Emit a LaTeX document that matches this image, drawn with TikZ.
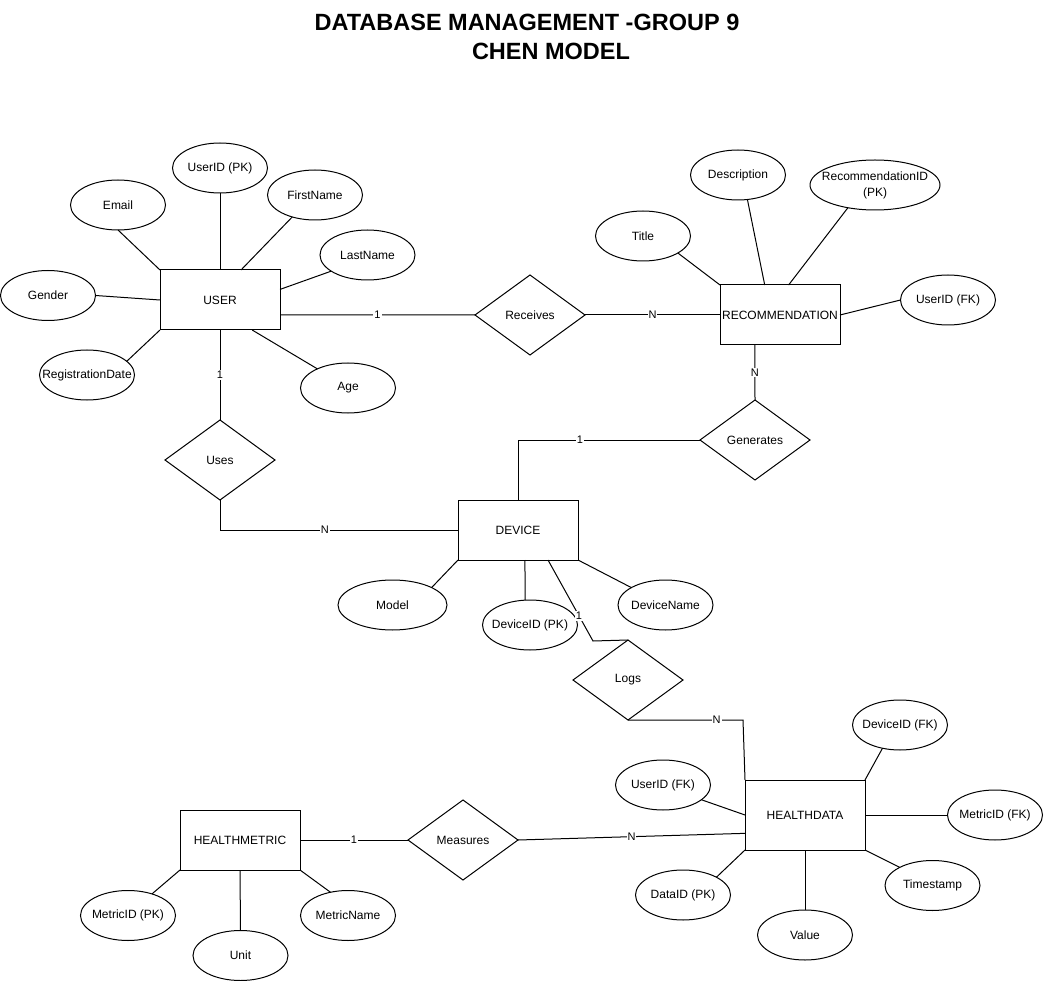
\documentclass[tikz,border=0pt]{standalone}
\usepackage{fontspec}
\setmainfont{Liberation Sans}
\usetikzlibrary{shapes.geometric}
\begin{document}
\begin{tikzpicture}[x=1pt,y=-1pt,line width=1pt,
    every node/.style={font=\fontsize{12}{16}\selectfont},
    entity/.style={draw,rectangle,minimum width=120pt,minimum height=60pt,inner sep=1pt,outer sep=0pt},
    attr/.style={draw,ellipse,minimum width=95pt,minimum height=50pt,inner sep=0pt,outer sep=0pt,
      execute at begin node={\hbox to 0pt\bgroup\hss},execute at end node={\hss\egroup}},
    rel/.style={draw,diamond,minimum width=110pt,minimum height=80pt,inner sep=0pt,outer sep=0pt},
    card/.style={fill=white,inner sep=1pt,font=\fontsize{11}{13}\selectfont}]
  \useasboundingbox (0,0) rectangle (1044,981);
  \node[font=\fontsize{23.5}{28}\selectfont\bfseries] (heading) at (527,22) {DATABASE MANAGEMENT -GROUP 9};
  \node[font=\fontsize{23.5}{28}\selectfont\bfseries] (subheading) at (551,51) {CHEN MODEL};

  \node[entity] (user) at (220,300) {USER};
  \node[entity] (rec) at (780,315) {RECOMMENDATION};
  \node[entity] (device) at (518,530) {DEVICE};
  \node[entity,minimum height=70pt] (hdata) at (805,815) {HEALTHDATA};
  \node[entity] (hmetric) at (240,840) {HEALTHMETRIC};

  \node[rel] (receives) at (530,315) {Receives};
  \node[rel] (generates) at (755,440) {Generates};
  \node[rel] (uses) at (220,460) {Uses};
  \node[rel] (logs) at (628,680) {Logs};
  \node[rel] (measures) at (463,840) {Measures};

  \node[attr] (uid) at (220,168) {UserID (PK)};
  \node[attr] (email) at (118,205) {Email};
  \node[attr] (fname) at (315,195) {FirstName};
  \node[attr] (lname) at (367.5,255) {LastName};
  \node[attr] (gender) at (48,295.5) {Gender};
  \node[attr] (regdate) at (87,375) {RegistrationDate};
  \node[attr] (age) at (348,388) {Age};

  \node[attr] (title) at (643,236) {Title};
  \node[attr] (desc) at (738,175) {Description};
  \node[attr,minimum width=130pt] (rid) at (875,185) {\begin{tabular}{@{}c@{}}RecommendationID\\(PK)\end{tabular}};
  \node[attr] (rfk) at (948,300) {UserID (FK)};

  \node[attr,minimum width=109pt] (model) at (392.5,605) {Model};
  \node[attr] (did) at (530,625) {DeviceID (PK)};
  \node[attr] (dname) at (665.5,605) {DeviceName};

  \node[attr] (dfk) at (900,725) {DeviceID (FK)};
  \node[attr] (ufk) at (663,785) {UserID (FK)};
  \node[attr] (mfk) at (995,815) {MetricID (FK)};
  \node[attr] (ts) at (932.5,885.5) {Timestamp};
  \node[attr] (val) at (805,935) {Value};
  \node[attr] (dpk) at (683,895) {DataID (PK)};

  \node[attr] (mpk) at (128,915.5) {MetricID (PK)};
  \node[attr] (unit) at (240.5,955.5) {Unit};
  \node[attr] (mname) at (348,915.5) {MetricName};

  \draw (user.north) -- (uid.south);
  \draw (user.north west) -- (email.south);
  \draw (user.55) -- (fname.224);
  \draw (user.10) -- (lname.204);
  \draw (user.west) -- (gender.east);
  \draw (user.south west) -- (regdate.19);
  \draw (user.-43) -- (age.148);

  \draw (rec.north west) -- (title.-26);
  \draw (rec.117) -- (desc.-69);
  \draw (rec.74) -- (rid.220);
  \draw (rec.east) -- (rfk.west);

  \draw (device.south west) -- (model.24);
  \draw (device.-77) -- (did.101);
  \draw (device.south east) -- (dname.153);

  \draw (hdata.north east) -- (dfk.233);
  \draw (hdata.west) -- (ufk.-21);
  \draw (hdata.east) -- (mfk.west);
  \draw (hdata.south east) -- (ts.151);
  \draw (hdata.south) -- (val.north);
  \draw (hdata.south west) -- (dpk.28);

  \draw (hmetric.south west) -- (mpk.42);
  \draw (hmetric.south) -- (unit.north);
  \draw (hmetric.south east) -- (mname.127);

  \draw (user.-14) -- node[card]{1} (receives.west);
  \draw (receives.east) -- node[card]{N} (rec.west);
  \draw (user.south) -- node[card]{1} (uses.north);
  \draw (uses.south) |- node[card,pos=0.72]{N} (device.west);
  \draw (rec.230) -- node[card]{N} (generates.north);
  \draw (generates.west) -| node[card,pos=0.33]{1} (device.north);
  \coordinate (logsbend) at (593,641);
  \draw (device.-45) -- node[card,pos=0.69]{1} (logsbend) -- (logs.north);
  \coordinate (logsturn) at (743,720);
  \draw (logs.south) -- node[card,pos=0.77]{N} (logsturn) -- (hdata.north west);
  \draw (hmetric.east) -- node[card]{1} (measures.west);
  \draw (measures.east) -- node[card]{N} (hdata.197);
\end{tikzpicture}
\end{document}
